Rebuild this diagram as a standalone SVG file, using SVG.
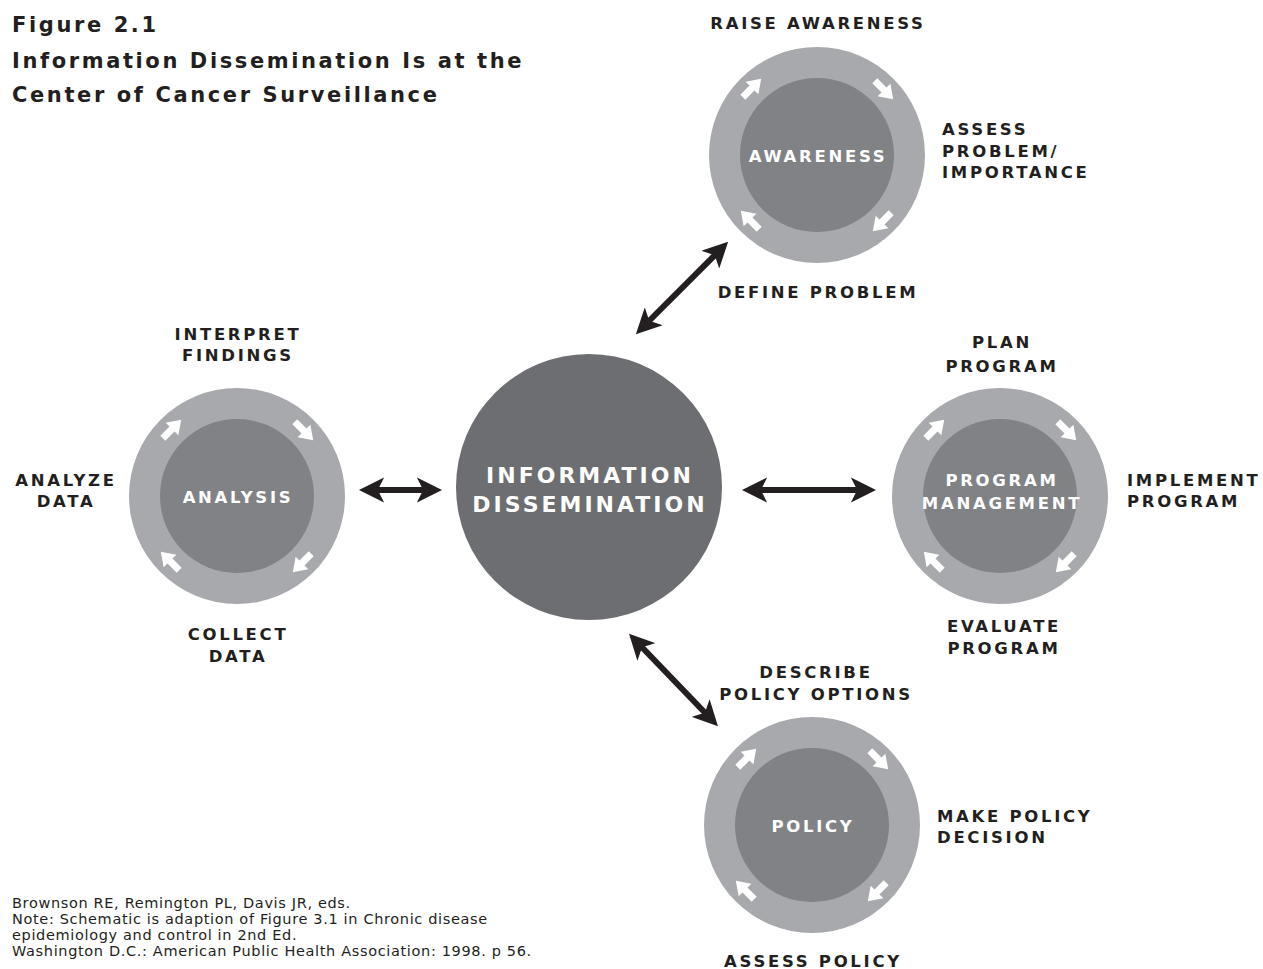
<svg xmlns="http://www.w3.org/2000/svg" width="1263" height="969" viewBox="0 0 1263 969">
<defs>
<style>
.ring{fill:#a7a9ac}
.core{fill:#808285}
.hub{fill:#6d6e71}
.lbl{font-family:"DejaVu Sans",Verdana,sans-serif;font-weight:bold;font-size:16.5px;letter-spacing:2.7px;fill:#231f20}
.in{font-family:"DejaVu Sans",Verdana,sans-serif;font-weight:bold;font-size:16.5px;letter-spacing:2.7px;fill:#ffffff;text-anchor:middle}
.c{text-anchor:middle}
.big{font-size:22px;letter-spacing:3px}
.title{font-family:"DejaVu Sans",Verdana,sans-serif;font-weight:bold;font-size:21px;letter-spacing:2.6px;fill:#231f20}
.note{font-family:"DejaVu Sans",Verdana,sans-serif;font-size:14.5px;letter-spacing:0.65px;fill:#231f20}
.conn{stroke:#231f20;stroke-width:6;fill:none;marker-start:url(#ah);marker-end:url(#ah)}
.wa{fill:#ffffff}
</style>
<marker id="ah" viewBox="0 0 10 10" refX="6" refY="5" markerWidth="4.2" markerHeight="4.2" orient="auto-start-reverse" markerUnits="strokeWidth">
<path d="M0,0 L10,5 L0,10 L2.5,5 Z" fill="#231f20"/>
</marker>
<path id="wa" class="wa" d="M-13,-3.5 L0,-3.5 L0,-9 L13,0 L0,9 L0,3.5 L-13,3.5 Z"/>
<g id="cyc">
<use href="#wa" transform="translate(-65,-67) rotate(-45)"/>
<use href="#wa" transform="translate(67,-65) rotate(45)"/>
<use href="#wa" transform="translate(65,67) rotate(135)"/>
<use href="#wa" transform="translate(-67,65) rotate(225)"/>
</g>
</defs>
<rect width="1263" height="969" fill="#ffffff"/>

<g id="title">
<text class="title" x="12" y="32">Figure 2.1</text>
<text class="title" x="12" y="68">Information Dissemination Is at the</text>
<text class="title" x="12" y="102">Center of Cancer Surveillance</text>
</g>

<g id="connectors">
<line class="conn" x1="369" y1="490" x2="432" y2="490"/>
<line class="conn" x1="752" y1="490" x2="866" y2="490"/>
<line class="conn" x1="643" y1="327" x2="721" y2="249"/>
<line class="conn" x1="636" y1="641" x2="711" y2="719"/>
</g>

<g id="hub">
<circle class="hub" cx="589" cy="487" r="133"/>
<text class="in big" x="590" y="483">INFORMATION</text>
<text class="in big" x="590" y="512">DISSEMINATION</text>
</g>

<g id="awareness">
<circle class="ring" cx="817" cy="155" r="108"/>
<circle class="core" cx="817" cy="155" r="77"/>
<use href="#cyc" transform="translate(817,155)"/>
<text class="in" x="818" y="162">AWARENESS</text>
<text class="lbl c" x="818" y="29">RAISE AWARENESS</text>
<text class="lbl" x="942" y="135">ASSESS</text>
<text class="lbl" x="942" y="157">PROBLEM/</text>
<text class="lbl" x="942" y="178">IMPORTANCE</text>
<text class="lbl c" x="818" y="298">DEFINE PROBLEM</text>
</g>

<g id="analysis">
<circle class="ring" cx="237" cy="496" r="108"/>
<circle class="core" cx="237" cy="496" r="77"/>
<use href="#cyc" transform="translate(237,496)"/>
<text class="in" x="238" y="503">ANALYSIS</text>
<text class="lbl c" x="238" y="340">INTERPRET</text>
<text class="lbl c" x="238" y="361">FINDINGS</text>
<text class="lbl c" x="66" y="486">ANALYZE</text>
<text class="lbl c" x="66" y="507">DATA</text>
<text class="lbl c" x="238" y="640">COLLECT</text>
<text class="lbl c" x="238" y="662">DATA</text>
</g>

<g id="program">
<circle class="ring" cx="1000" cy="496" r="108"/>
<circle class="core" cx="1000" cy="496" r="77"/>
<use href="#cyc" transform="translate(1000,496)"/>
<text class="in" x="1002" y="486">PROGRAM</text>
<text class="in" x="1002" y="509">MANAGEMENT</text>
<text class="lbl c" x="1002" y="348">PLAN</text>
<text class="lbl c" x="1002" y="372">PROGRAM</text>
<text class="lbl" x="1127" y="486">IMPLEMENT</text>
<text class="lbl" x="1127" y="507">PROGRAM</text>
<text class="lbl c" x="1004" y="632">EVALUATE</text>
<text class="lbl c" x="1004" y="654">PROGRAM</text>
</g>

<g id="policy">
<circle class="ring" cx="812" cy="825" r="108"/>
<circle class="core" cx="812" cy="825" r="77"/>
<use href="#cyc" transform="translate(812,825)"/>
<text class="in" x="813" y="832">POLICY</text>
<text class="lbl c" x="816" y="678">DESCRIBE</text>
<text class="lbl c" x="816" y="700">POLICY OPTIONS</text>
<text class="lbl" x="937" y="822">MAKE POLICY</text>
<text class="lbl" x="937" y="843">DECISION</text>
<text class="lbl c" x="813" y="967">ASSESS POLICY</text>
</g>

<g id="footnote">
<text class="note" x="12" y="908">Brownson RE, Remington PL, Davis JR, eds.</text>
<text class="note" x="12" y="924">Note: Schematic is adaption of Figure 3.1 in Chronic disease</text>
<text class="note" x="12" y="940">epidemiology and control in 2nd Ed.</text>
<text class="note" x="12" y="956">Washington D.C.: American Public Health Association: 1998. p 56.</text>
</g>
</svg>
